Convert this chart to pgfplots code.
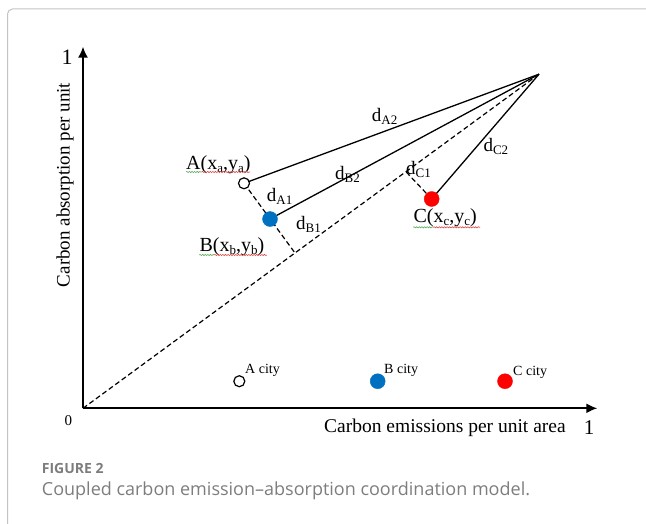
\documentclass[border=0pt]{standalone}
\usepackage{fontspec}
\setmainfont{Liberation Serif}
\newfontfamily\capfont{Open Sans}
\usepackage{pgfplots}
\pgfplotsset{compat=1.18}
\usetikzlibrary{arrows.meta,decorations.pathmorphing}
\definecolor{cblue}{RGB}{0,112,192}
\definecolor{cred}{RGB}{255,0,0}
\definecolor{capgray}{RGB}{125,125,125}
\definecolor{framegray}{RGB}{195,195,195}
\definecolor{wavegreen}{RGB}{90,170,90}
\definecolor{wavered}{RGB}{225,70,70}
\newcommand{\sub}[1]{\raisebox{-3pt}{\fontsize{13}{13}\selectfont #1}}
\newcommand{\dl}[1]{\fontsize{19}{19}\selectfont d\sub{#1}}
\newcommand{\pt}[3]{\fontsize{20}{20}\selectfont #1(x\sub{#2},y\sub{#3})}
\begin{document}
\begin{tikzpicture}
\useasboundingbox (0pt,0pt) rectangle (646pt,524pt);
\draw[framegray, line width=1pt, rounded corners=5pt] (7.5pt,0pt) -- (7.5pt,515pt) -- (646pt,515pt);
\begin{axis}[at={(83pt,115.7pt)}, anchor=south west, scale only axis,
  width=506pt, height=356pt, xmin=0, xmax=1, ymin=0, ymax=1,
  hide axis, clip=false]
% axes
\draw[line width=1.6pt, -{Latex[length=11pt,width=10pt]}] (axis cs:0,0) -- (axis cs:1.0164,0);
\draw[line width=1.6pt, -{Latex[length=11pt,width=10pt]}] (axis cs:0,0) -- (axis cs:0,1.0157);
% diagonal and perpendiculars
\addplot[black, line width=1.2pt, dash pattern=on 5pt off 3pt] coordinates {(0,0) (0.9012,0.9385)};
\addplot[black, line width=1.2pt, dash pattern=on 5pt off 3pt] coordinates {(0.3182,0.6320) (0.4190,0.4362)};
% C marks (lines drawn over them)
\addplot[only marks, mark=*, mark size=7.5pt, color=cred] coordinates {(0.6891,0.5879) (0.8340,0.076)};
\addplot[black, line width=1.2pt, dash pattern=on 5pt off 3pt] coordinates {(0.6891,0.5879) (0.6383,0.6645)};
% solid lines to ideal point
\addplot[black, line width=1.3pt] coordinates {(0.3182,0.6320) (0.9012,0.9385)};
\addplot[black, line width=1.3pt] coordinates {(0.3696,0.5317) (0.9012,0.9385)};
\addplot[black, line width=1.3pt] coordinates {(0.6891,0.5879) (0.9012,0.9385)};
% A and B marks
\addplot[only marks, mark=*, mark size=5.5pt, mark options={draw=black, fill=white, line width=1.2pt}] coordinates {(0.3182,0.6320) (0.3089,0.076)};
\addplot[only marks, mark=*, mark size=7.5pt, color=cblue] coordinates {(0.3696,0.5317) (0.5824,0.076)};
\end{axis}
% axis labels
\node[inner sep=0, font=\fontsize{22}{22}\selectfont] at (67pt,466.5pt) {1};
\node[inner sep=0, font=\fontsize{15}{15}\selectfont] at (68.3pt,103.3pt) {0};
\node[inner sep=0, font=\fontsize{21}{21}\selectfont] at (589pt,96.7pt) {1};
\node[inner sep=0, anchor=west, font=\fontsize{19.5}{19.5}\selectfont] at (324pt,96pt) {Carbon emissions per unit area};
\node[inner sep=0, rotate=90, font=\fontsize{19}{19}\selectfont] at (65pt,339pt) {Carbon absorption per unit};
% distance labels
\node[inner sep=0, anchor=base west] at (371.7pt,402.3pt) {\dl{A2}};
\node[inner sep=0, anchor=base west] at (335pt,344pt) {\dl{B2}};
\node[inner sep=0, anchor=base west] at (406pt,349pt) {\dl{C1}};
\node[inner sep=0, anchor=base west] at (483.3pt,372.3pt) {\dl{C2}};
\node[inner sep=0, anchor=base west] at (266.7pt,322.3pt) {\dl{A1}};
\node[inner sep=0, anchor=base west] at (296pt,294.7pt) {\dl{B1}};
% point labels
\node[inner sep=0, anchor=base west] at (186pt,354.7pt) {\pt{A}{a}{a}};
\node[inner sep=0, anchor=base west] at (199.3pt,272.3pt) {\pt{B}{b}{b}};
\node[inner sep=0, anchor=base west] at (413.3pt,301.3pt) {\pt{C}{c}{c}};
% wavy underlines
\begin{scope}[decorate, line width=0.6pt, decoration={snake, amplitude=0.6pt, segment length=2.6pt}]
\draw[wavegreen, decorate] (186pt,352pt) -- (201.7pt,352pt);
\draw[wavered, decorate] (201.7pt,352pt) -- (250pt,352pt);
\draw[wavegreen, decorate] (199.3pt,269pt) -- (214.3pt,269pt);
\draw[wavered, decorate] (214.3pt,269pt) -- (266.7pt,269pt);
\draw[wavegreen, decorate] (413.3pt,296.7pt) -- (433.3pt,296.7pt);
\draw[wavered, decorate] (433.3pt,296.7pt) -- (480pt,296.7pt);
\end{scope}
% city legend
\node[inner sep=0, anchor=base west, font=\fontsize{14}{14}\selectfont] at (245pt,150pt) {A city};
\node[inner sep=0, anchor=base west, font=\fontsize{14}{14}\selectfont] at (384pt,150pt) {B city};
\node[inner sep=0, anchor=base west, font=\fontsize{14}{14}\selectfont] at (513pt,148pt) {C city};
% caption
\node[inner sep=0, anchor=base west, text=capgray, font=\capfont\bfseries\fontsize{14}{14}\selectfont] at (41.7pt,50.7pt) {FIGURE 2};
\node[inner sep=0, anchor=base west, text=capgray, font=\capfont\fontsize{18}{18}\selectfont] at (41.7pt,28pt) {Coupled carbon emission–absorption coordination model.};
\end{tikzpicture}
\end{document}
